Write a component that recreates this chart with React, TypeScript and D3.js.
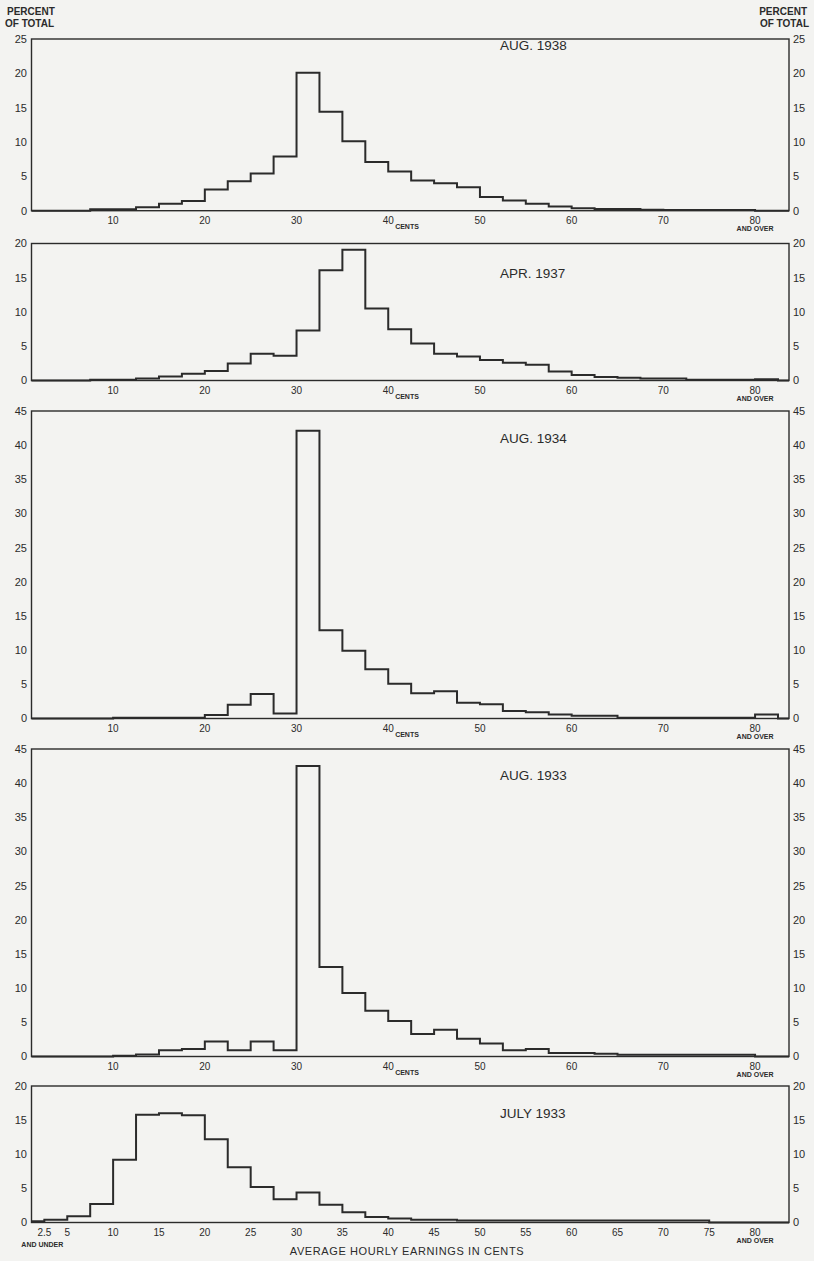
import React from 'react';
import * as d3 from 'd3';

// Distribution of workers by average hourly earnings, 2.5-cent classes (0, 2.5, ..., 80 and over)
const binStarts = d3.range(0, 82.5, 2.5);

const aug1938 = [0, 0, 0, 0.2, 0.2, 0.5, 1.0, 1.4, 3.1, 4.3, 5.4, 7.9, 20.1, 14.4, 10.1, 7.1, 5.7, 4.4, 4.0, 3.4, 2.0, 1.5, 1.0, 0.6, 0.35, 0.25, 0.25, 0.15, 0.1, 0.1, 0.1, 0.1, 0];
const apr1937 = [0, 0, 0, 0.1, 0.1, 0.3, 0.6, 1.0, 1.4, 2.5, 3.9, 3.6, 7.3, 16.1, 19.1, 10.5, 7.5, 5.4, 3.9, 3.5, 3.0, 2.6, 2.3, 1.3, 0.8, 0.5, 0.4, 0.3, 0.3, 0.1, 0.1, 0.1, 0.2];
const aug1934 = [0, 0, 0, 0, 0.1, 0.1, 0.1, 0.1, 0.5, 2.0, 3.6, 0.75, 42.1, 12.9, 9.9, 7.2, 5.1, 3.7, 4.0, 2.3, 2.1, 1.1, 0.9, 0.6, 0.4, 0.4, 0.1, 0.1, 0.1, 0.1, 0.1, 0.1, 0.6];
const aug1933 = [0, 0, 0, 0, 0.1, 0.3, 0.9, 1.1, 2.2, 0.9, 2.2, 0.9, 42.5, 13.1, 9.3, 6.7, 5.2, 3.3, 3.9, 2.6, 1.9, 0.9, 1.1, 0.5, 0.5, 0.4, 0.25, 0.25, 0.25, 0.25, 0.25, 0.25, 0];
const july1933 = [0.2, 0.4, 0.9, 2.7, 9.2, 15.8, 16.0, 15.7, 12.2, 8.1, 5.2, 3.4, 4.4, 2.6, 1.5, 0.8, 0.6, 0.4, 0.4, 0.3, 0.3, 0.3, 0.3, 0.3, 0.3, 0.3, 0.3, 0.3, 0.3, 0.3, 0, 0, 0];

const titles = ['AUG. 1938', 'APR. 1937', 'AUG. 1934', 'AUG. 1933', 'JULY 1933'];
const yMaxes = [25, 20, 45, 45, 20];
const series = [aug1938, apr1937, aug1934, aug1933, july1933];

const tensTicks = [10, 20, 30, 40, 50, 60, 70, 80];
const fivesTicks = [2.5, 5, 10, 15, 20, 25, 30, 35, 40, 45, 50, 55, 60, 65, 70, 75, 80];

const W = 814;
const H = 1261;
const left = 31.5;
const right = 789;
const panelTops = [39, 243.5, 411, 749, 1086];
const panelBottoms = [210.7, 380.5, 718.5, 1056.5, 1222.5];
const titleOffsets = [11, 34, 32, 31, 32];

const ink = '#2b2b2b';
const font = '"Liberation Sans", "DejaVu Sans", sans-serif';

const x = d3.scaleLinear().domain([1.1, 83.7]).range([left, right]).clamp(true);

function Panel({ i }: { i: number }) {
  const top = panelTops[i];
  const bottom = panelBottoms[i];
  const y = d3.scaleLinear().domain([0, yMaxes[i]]).range([bottom, top]);
  const values = series[i];
  const pts: [number, number][] = binStarts.map((b, k) => [b, values[k]]);
  pts.push([82.5, 0], [83.7, 0]);
  const line = d3.line<[number, number]>()
    .x(d => x(d[0]))
    .y(d => y(d[1]))
    .curve(d3.curveStepAfter);
  const yTicks = d3.range(0, yMaxes[i] + 1, 5);
  const last = i === 4;
  const xTicks = last ? fivesTicks : tensTicks;

  return (
    <g>
      <rect x={left} y={top} width={right - left} height={bottom - top} fill="none" stroke={ink} strokeWidth={1.4} />
      <path d={line(pts) || ''} fill="none" stroke={ink} strokeWidth={2} />
      {yTicks.map(t => (
        <g key={t} fontFamily={font} fontSize={11} fill={ink}>
          <text x={27} y={y(t)} dy="0.35em" textAnchor="end">{t}</text>
          <text x={793} y={y(t)} dy="0.35em" textAnchor="start">{t}</text>
        </g>
      ))}
      {xTicks.map(t => (
        <text key={t} x={x(t)} y={bottom + 13} textAnchor="middle" fontFamily={font} fontSize={10} fill={ink}>
          {t}
        </text>
      ))}
      <text x={x(80)} y={bottom + 20} textAnchor="middle" fontFamily={font} fontSize={7} fontWeight="bold" fill={ink}>
        AND OVER
      </text>
      {last ? (
        <g fontFamily={font} fill={ink}>
          <text x={x(2.5) - 2} y={bottom + 24} textAnchor="middle" fontSize={7} fontWeight="bold">AND UNDER</text>
          <text x={407} y={bottom + 32} textAnchor="middle" fontSize={11} letterSpacing={0.6}>AVERAGE HOURLY EARNINGS IN CENTS</text>
        </g>
      ) : (
        <text x={407} y={bottom + 18} textAnchor="middle" fontFamily={font} fontSize={7} fontWeight="bold" fill={ink}>
          CENTS
        </text>
      )}
      <text x={500} y={top + titleOffsets[i]} fontFamily={font} fontSize={13.5} fill={ink}>
        {titles[i]}
      </text>
    </g>
  );
}

export default function App() {
  return (
    <svg width={W} height={H} style={{ position: 'absolute', left: 0, top: 0, background: '#f3f3f1' }}>
      <g fontFamily={font} fontSize={10} fontWeight="bold" fill={ink}>
        <text x={7} y={15}>PERCENT</text>
        <text x={5} y={27}>OF TOTAL</text>
        <text x={807} y={15} textAnchor="end">PERCENT</text>
        <text x={809} y={27} textAnchor="end">OF TOTAL</text>
      </g>
      {titles.map((_, i) => <Panel key={i} i={i} />)}
    </svg>
  );
}
